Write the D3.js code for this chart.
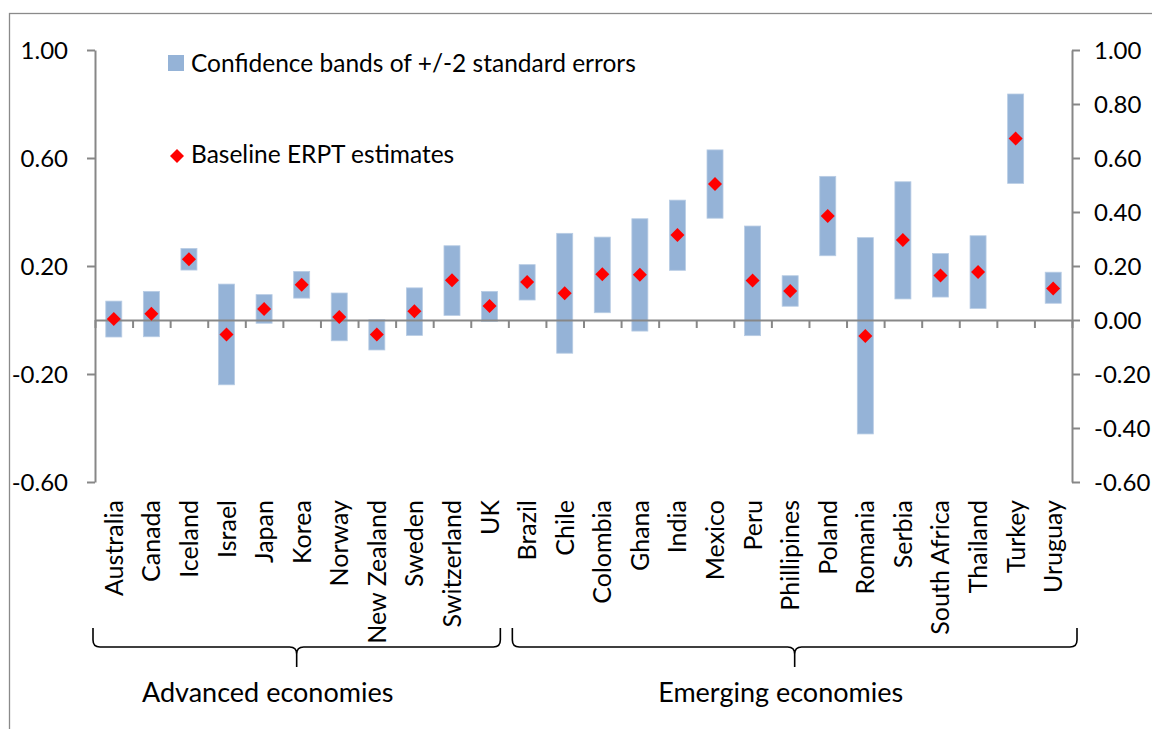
<!DOCTYPE html>
<html>
<head>
<meta charset="utf-8">
<script src="https://cdn.jsdelivr.net/npm/d3@7"></script>
<style>
  body { margin: 0; background: #fff; }
  text { font-family: Lato, "Open Sans", sans-serif; fill: #000; }
</style>
</head>
<body>
<div id="chart"></div>
<script>
// data
const countries = ['Australia', 'Canada', 'Iceland', 'Israel', 'Japan', 'Korea', 'Norway', 'New Zealand',
    'Sweden', 'Switzerland', 'UK', 'Brazil', 'Chile', 'Colombia', 'Ghana', 'India', 'Mexico', 'Peru',
    'Phillipines', 'Poland', 'Romania', 'Serbia', 'South Africa', 'Thailand', 'Turkey', 'Uruguay'];
const lower = [-0.063, -0.062, 0.185, -0.240, -0.012, 0.081, -0.077, -0.111, -0.057, 0.017, -0.005,
    0.074, -0.123, 0.027, -0.041, 0.184, 0.377, -0.058, 0.051, 0.238, -0.422, 0.078, 0.085, 0.043, 0.506, 0.062];
const upper = [0.070, 0.106, 0.265, 0.133, 0.094, 0.180, 0.100, 0.001, 0.119, 0.275, 0.106,
    0.205, 0.321, 0.307, 0.375, 0.444, 0.630, 0.348, 0.164, 0.532, 0.305, 0.512, 0.246, 0.312, 0.837, 0.177];
const estimates = [0.004, 0.023, 0.225, -0.054, 0.041, 0.131, 0.011, -0.054, 0.032, 0.147, 0.052,
    0.141, 0.099, 0.169, 0.168, 0.315, 0.504, 0.146, 0.107, 0.385, -0.059, 0.296, 0.165, 0.178, 0.672, 0.117];

const groupNames = ['Advanced economies', 'Emerging economies'];
const groupFirst = ['Australia', 'Brazil'];
const groupLast = ['UK', 'Uruguay'];

const leftTicks = [-0.6, -0.2, 0.2, 0.6, 1.0];
const rightTicks = [-0.6, -0.4, -0.2, 0, 0.2, 0.4, 0.6, 0.8, 1.0];

const legendLabels = ['Confidence bands of +/-2 standard errors', 'Baseline ERPT estimates'];

//#region layout
let width = 1152,
    height = 729,
    plotLeft = 95,
    plotRight = 1072,
    plotTop = 50,
    plotBottom = 482,
    axisColor = '#878787',
    barColor = '#95B3D7',
    fontSize = 25,
    axisFont = 24,
    legendFont = 24.5,
    groupFont = 27;
//#endregion

let svg = d3.select('#chart')
    .append('svg')
    .attr('width', width)
    .attr('height', height);

// chart frame, runs off the right and bottom edge
svg.append('rect')
    .attr('x', 9.5)
    .attr('y', 13.5)
    .attr('width', 1300)
    .attr('height', 900)
    .attr('fill', 'none')
    .attr('stroke', '#8a8a8a')
    .attr('stroke-width', 1.3);

let yScale = d3.scaleLinear()
    .domain([-0.6, 1.0])
    .range([plotBottom, plotTop]);

let xScale = d3.scaleBand()
    .domain(countries)
    .range([plotLeft, plotRight])
    .paddingInner(0.574)
    .paddingOuter(0.287);

let slotScale = d3.scaleLinear()
    .domain([0, countries.length])
    .range([plotLeft, plotRight]);

let fmt = d => d.toFixed(2);

//#region axes
let axisY = d3.axisLeft(yScale)
    .tickValues(leftTicks)
    .tickFormat(fmt)
    .tickSize(8)
    .tickSizeOuter(0)
    .tickPadding(19);

let axisY2 = d3.axisRight(yScale)
    .tickValues(rightTicks)
    .tickFormat(fmt)
    .tickSize(8)
    .tickSizeOuter(0)
    .tickPadding(14);

let gLeft = svg.append('g')
    .attr('transform', `translate(${plotLeft}, 0)`)
    .call(axisY);

let gRight = svg.append('g')
    .attr('transform', `translate(${plotRight}, 0)`)
    .call(axisY2);

[gLeft, gRight].forEach(g => {
    g.select('.domain').attr('stroke', axisColor).attr('stroke-width', 2);
    g.selectAll('.tick line').attr('stroke', axisColor).attr('stroke-width', 2);
    g.selectAll('.tick text')
        .attr('font-size', axisFont)
        .attr('font-family', 'Lato')
        .attr('fill', '#000')
        .attr('dy', '0.36em');
});
//#endregion

//#region bars and points
svg.selectAll('rect.band')
    .data(countries)
    .enter()
    .append('rect')
    .attr('class', 'band')
    .attr('x', d => xScale(d))
    .attr('width', xScale.bandwidth())
    .attr('y', (d, i) => yScale(upper[i]))
    .attr('height', (d, i) => yScale(lower[i]) - yScale(upper[i]))
    .attr('fill', barColor)
    .attr('stroke', '#b8cce4')
    .attr('stroke-width', 0.8);

// category axis at zero, ticks between categories
let axisX = d3.axisBottom(slotScale)
    .tickValues(d3.range(countries.length + 1))
    .tickFormat('')
    .tickSize(8)
    .tickSizeOuter(0);

let gX = svg.append('g')
    .attr('transform', `translate(0, ${yScale(0)})`)
    .call(axisX);
gX.select('.domain').attr('stroke', axisColor).attr('stroke-width', 2);
gX.selectAll('.tick line').attr('stroke', axisColor).attr('stroke-width', 2);

let diamond = d3.symbol().type(d3.symbolDiamond2).size(125);

svg.selectAll('path.est')
    .data(countries)
    .enter()
    .append('path')
    .attr('class', 'est')
    .attr('d', diamond)
    .attr('transform', (d, i) => `translate(${xScale(d) + xScale.bandwidth() / 2}, ${yScale(estimates[i])})`)
    .attr('fill', '#ff0000');
//#endregion

// country names, rotated
svg.selectAll('text.country')
    .data(countries)
    .enter()
    .append('text')
    .attr('class', 'country')
    .attr('transform', d => `translate(${xScale(d) + xScale.bandwidth() / 2}, 500) rotate(-90)`)
    .attr('text-anchor', 'end')
    .attr('dy', '0.36em')
    .attr('font-size', fontSize)
    .text(d => d);

//#region group brackets
let bracketTop = 628,
    bracketMid = 647,
    bracketTip = 667,
    r = 7;

groupNames.forEach((name, i) => {
    let a = countries.indexOf(groupFirst[i]),
        b = countries.indexOf(groupLast[i]) + 1;
    let x0 = slotScale(a) + (i === 0 ? -2 : 4),
        x1 = slotScale(b) + (i === 0 ? -8 : 5),
        xm = (x0 + x1) / 2;
    let p = d3.path();
    p.moveTo(x0, bracketTop);
    p.lineTo(x0, bracketMid - r);
    p.quadraticCurveTo(x0, bracketMid, x0 + r, bracketMid);
    p.lineTo(xm - r, bracketMid);
    p.quadraticCurveTo(xm, bracketMid, xm, bracketMid + r);
    p.lineTo(xm, bracketTip);
    p.moveTo(xm, bracketMid + r);
    p.quadraticCurveTo(xm, bracketMid, xm + r, bracketMid);
    p.lineTo(x1 - r, bracketMid);
    p.quadraticCurveTo(x1, bracketMid, x1, bracketMid - r);
    p.lineTo(x1, bracketTop);

    svg.append('path')
        .attr('d', p.toString())
        .attr('fill', 'none')
        .attr('stroke', '#000')
        .attr('stroke-width', 1.6);

    svg.append('text')
        .attr('x', xm + (i === 0 ? -29 : -14))
        .attr('y', 702)
        .attr('text-anchor', 'middle')
        .attr('font-size', groupFont)
        .text(name);
});
//#endregion

//#region legend
svg.append('rect')
    .attr('x', 168)
    .attr('y', 55)
    .attr('width', 16)
    .attr('height', 16)
    .attr('fill', barColor);

svg.append('text')
    .attr('x', 191)
    .attr('y', 72)
    .attr('font-size', legendFont)
    .text(legendLabels[0]);

svg.append('path')
    .attr('d', diamond)
    .attr('transform', 'translate(177, 156)')
    .attr('fill', '#ff0000');

svg.append('text')
    .attr('x', 191)
    .attr('y', 163)
    .attr('font-size', legendFont)
    .text(legendLabels[1]);
//#endregion
</script>
</body>
</html>
